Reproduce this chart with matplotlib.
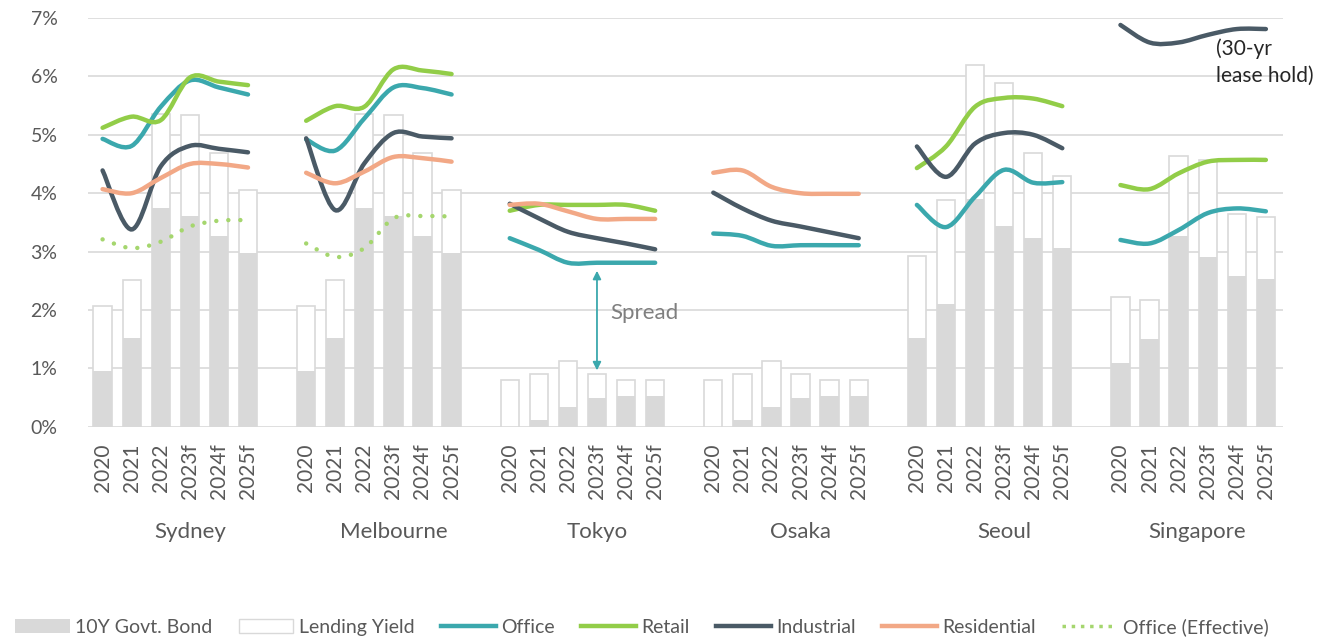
import numpy as np
import matplotlib.pyplot as plt
from matplotlib.path import Path
from matplotlib.patches import PathPatch, Patch
from matplotlib.lines import Line2D

plt.rcParams['font.family'] = ['Lato', 'DejaVu Sans']

cities = ['Sydney', 'Melbourne', 'Tokyo', 'Osaka', 'Seoul', 'Singapore']
years = ['2020', '2021', '2022', '2023f', '2024f', '2025f']

nan = np.nan
# 10Y government bond yield (%), 6 years per city
bond = [0.95, 1.53, 3.74, 3.61, 3.27, 2.97,
        0.95, 1.53, 3.74, 3.61, 3.27, 2.97,
        0.00, 0.11, 0.34, 0.49, 0.53, 0.53,
        0.00, 0.11, 0.34, 0.49, 0.53, 0.53,
        1.53, 2.10, 3.90, 3.44, 3.23, 3.06,
        1.09, 1.50, 3.27, 2.90, 2.59, 2.53]
# lending yield (%)
lending = [2.07, 2.52, 5.35, 5.34, 4.68, 4.06,
           2.07, 2.52, 5.35, 5.34, 4.68, 4.06,
           0.80, 0.91, 1.12, 0.91, 0.80, 0.80,
           0.80, 0.91, 1.12, 0.91, 0.80, 0.80,
           2.92, 3.88, 6.20, 5.89, 4.69, 4.30,
           2.23, 2.17, 4.64, 4.57, 3.65, 3.59]
office = [4.93, 4.81, 5.48, 5.93, 5.81, 5.69,
          4.92, 4.73, 5.28, 5.81, 5.80, 5.69,
          3.23, 3.03, 2.81, 2.81, 2.81, 2.81,
          3.31, 3.27, 3.10, 3.11, 3.11, 3.11,
          3.80, 3.42, 3.94, 4.40, 4.18, 4.19,
          3.20, 3.14, 3.37, 3.66, 3.74, 3.69]
retail = [5.12, 5.31, 5.25, 5.98, 5.91, 5.85,
          5.24, 5.49, 5.48, 6.12, 6.10, 6.04,
          3.70, 3.80, 3.80, 3.80, 3.80, 3.70,
          nan, nan, nan, nan, nan, nan,
          4.43, 4.80, 5.48, 5.63, 5.62, 5.49,
          4.14, 4.07, 4.34, 4.54, 4.57, 4.57]
industrial = [4.39, 3.38, 4.46, 4.81, 4.76, 4.70,
              4.94, 3.71, 4.51, 5.03, 4.97, 4.94,
              3.82, 3.57, 3.34, 3.23, 3.14, 3.04,
              4.01, 3.74, 3.53, 3.43, 3.33, 3.23,
              4.80, 4.28, 4.85, 5.03, 5.00, 4.77,
              6.88, 6.58, 6.58, 6.71, 6.81, 6.81]
residential = [4.07, 4.00, 4.26, 4.50, 4.50, 4.44,
               4.35, 4.17, 4.37, 4.62, 4.60, 4.54,
               3.80, 3.82, 3.69, 3.56, 3.56, 3.56,
               4.35, 4.39, 4.11, 4.00, 3.99, 3.99,
               nan, nan, nan, nan, nan, nan,
               nan, nan, nan, nan, nan, nan]
office_eff = [3.21, 3.06, 3.17, 3.43, 3.53, 3.54,
              3.14, 2.91, 3.06, 3.57, 3.61, 3.60,
              nan, nan, nan, nan, nan, nan,
              nan, nan, nan, nan, nan, nan,
              nan, nan, nan, nan, nan, nan,
              nan, nan, nan, nan, nan, nan]

c_office = '#3BA8AD'
c_retail = '#92CD48'
c_ind = '#4A5A66'
c_res = '#F2A886'
c_eff = '#A5D66E'
c_gray = '#D9D9D9'
c_text = '#595959'


def smooth_path(xs, ys):
    # Excel-like smoothed line through the points (cubic Bezier segments)
    pts = np.column_stack([xs, ys])
    n = len(pts)
    verts = [pts[0]]
    codes = [Path.MOVETO]
    for i in range(n - 1):
        p0 = pts[max(i - 1, 0)]
        p1 = pts[i]
        p2 = pts[i + 1]
        p3 = pts[min(i + 2, n - 1)]
        verts += [p1 + (p2 - p0) / 6, p2 - (p3 - p1) / 6, p2]
        codes += [Path.CURVE4] * 3
    return Path(verts, codes)


fig = plt.figure(figsize=(13.4, 6.41), dpi=100)
ax = fig.add_axes([0.0657, 0.334, 0.892, 0.638])

# slot positions: 6 years per city, one empty slot between cities
x = np.array([g * 7 + j for g in range(len(cities)) for j in range(len(years))], dtype=float)

w = 0.63
ax.bar(x, lending, width=w, color='white', edgecolor=c_gray, linewidth=1.2, zorder=2)
ax.bar(x, bond, width=w, color=c_gray, edgecolor='none', zorder=3)

series = [(office, c_office, '-'), (retail, c_retail, '-'),
          (industrial, c_ind, '-'), (residential, c_res, '-'),
          (office_eff, c_eff, ':')]
for vals, col, ls in series:
    vals = np.array(vals)
    for g in range(len(cities)):
        seg = vals[g * 6:(g + 1) * 6]
        if np.all(np.isnan(seg)):
            continue
        p = smooth_path(x[g * 6:(g + 1) * 6], seg)
        if ls == ':':
            patch = PathPatch(p, fill=False, edgecolor=col, linewidth=3.2,
                              linestyle=(0, (0.01, 2.7)), capstyle='round', zorder=5)
        else:
            patch = PathPatch(p, fill=False, edgecolor=col, linewidth=3.2,
                              capstyle='round', zorder=5)
        ax.add_patch(patch)

ax.set_ylim(0, 7)
ax.set_xlim(-0.5, 40.6)
ax.set_yticks(range(0, 8))
ax.set_yticklabels([f'{i}%' for i in range(0, 8)], fontsize=14, color=c_text)
ax.set_xticks(x)
ax.set_xticklabels(years * len(cities), rotation=90, fontsize=15, color=c_text)
ax.tick_params(axis='both', length=0)
ax.tick_params(axis='x', pad=12)
ax.tick_params(axis='y', pad=22)
ax.grid(axis='y', color=c_gray, linewidth=1.2)
ax.set_axisbelow(True)
for s in ax.spines.values():
    s.set_visible(False)

# city labels are centred over the group plus its trailing gap slot
for g, city in enumerate(cities):
    cx = g * 7 + (3 if g < len(cities) - 1 else 2.65)
    ax.text(cx, -0.257, city, transform=ax.get_xaxis_transform(),
            ha='center', va='center', fontsize=16, color=c_text)

# spread annotation
ax.annotate('', xy=(17, 0.92), xytext=(17, 2.72),
            arrowprops=dict(arrowstyle='<|-|>', color=c_office, lw=1.3,
                            mutation_scale=12))
ax.text(17.45, 1.95, 'Spread', fontsize=16, color='#7F7F7F', va='center')

ax.text(38.3, 6.24, '(30-yr\nlease hold)', fontsize=15, color='#262626',
        va='center', ha='left', linespacing=1.45, clip_on=False)

handles = [Patch(facecolor=c_gray, edgecolor='none'),
           Patch(facecolor='white', edgecolor=c_gray),
           Line2D([], [], color=c_office, lw=3.2),
           Line2D([], [], color=c_retail, lw=3.2),
           Line2D([], [], color=c_ind, lw=3.2),
           Line2D([], [], color=c_res, lw=3.2),
           Line2D([], [], color=c_eff, lw=2.5, linestyle=':')]
labels = ['10Y Govt. Bond', 'Lending Yield', 'Office', 'Retail', 'Industrial',
          'Residential', 'Office (Effective)']
fig.legend(handles, labels, loc='center', bbox_to_anchor=(0.479, 0.022), ncol=7,
           frameon=False, fontsize=14, labelcolor=c_text, handlelength=2.8,
           handletextpad=0.3, columnspacing=1.35)

fig.savefig('out.png', dpi=100)
